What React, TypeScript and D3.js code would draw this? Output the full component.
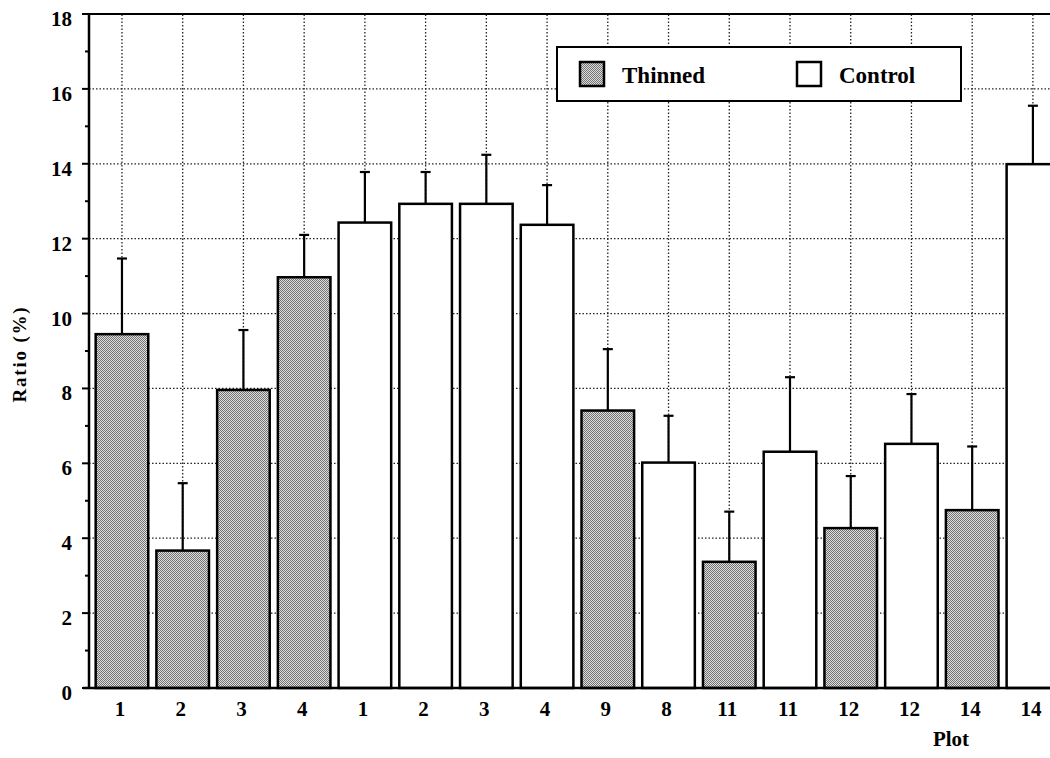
import React from 'react';
import * as d3 from 'd3';

// plot numbers as printed under each bar
const plots = ['1', '2', '3', '4', '1', '2', '3', '4', '9', '8', '11', '11', '12', '12', '14', '14'];
const treatments = [
  'Thinned', 'Thinned', 'Thinned', 'Thinned',
  'Control', 'Control', 'Control', 'Control',
  'Thinned', 'Control', 'Thinned', 'Control',
  'Thinned', 'Control', 'Thinned', 'Control',
];
// ratio (%) and top of the error bar
const ratios = [9.45, 3.67, 7.96, 10.97, 12.43, 12.93, 12.93, 12.37, 7.41, 6.02, 3.37, 6.31, 4.27, 6.52, 4.75, 13.99];
const errTops = [11.47, 5.47, 9.56, 12.1, 13.78, 13.78, 14.24, 13.43, 9.05, 7.27, 4.71, 8.3, 5.66, 7.85, 6.45, 15.55];
const yTicks = [0, 2, 4, 6, 8, 10, 12, 14, 16, 18];
const yMinor = [1, 3, 5, 7, 9, 11, 13, 15, 17];
const legendItems = ['Thinned', 'Control'];

const W = 1050;
const H = 758;
const FONT = '"Liberation Serif", "Times New Roman", serif';

const App = () => {
  const idx = plots.map((_, i) => i);
  const x = d3.scaleBand<number>()
    .domain(idx)
    .range([91.6, 91.6 + 16 * 60.73])
    .paddingInner(0.134)
    .paddingOuter(0.067);
  const y = d3.scaleLinear().domain([0, 18]).range([688, 14]);
  const axisX = 89;
  const fillFor = (t: string) => (t === 'Thinned' ? 'url(#stipple)' : '#fff');
  const half = x.bandwidth() / 2;

  return (
    <div style={{ position: 'absolute', left: 0, top: 0 }}>
      <svg width={W} height={H} style={{ display: 'block', background: '#fff' }} fontFamily={FONT}>
        <defs>
          <pattern id="stipple" patternUnits="userSpaceOnUse" x={0} y={0} width={4} height={4}>
            <rect width={4} height={4} fill="#dedede" />
            <rect x={0} y={0} width={1} height={1} fill="#707070" />
            <rect x={2} y={0} width={1} height={1} fill="#7a7a7a" />
            <rect x={1} y={1} width={1} height={1} fill="#747474" />
            <rect x={3} y={1} width={1} height={1} fill="#6c6c6c" />
            <rect x={0} y={2} width={1} height={1} fill="#7a7a7a" />
            <rect x={2} y={2} width={1} height={1} fill="#707070" />
            <rect x={1} y={3} width={1} height={1} fill="#6c6c6c" />
            <rect x={3} y={3} width={1} height={1} fill="#767676" />
          </pattern>
        </defs>

        {/* dotted grid */}
        <g stroke="#222" strokeWidth={1.3} strokeDasharray="1.5 2" fill="none">
          {yTicks.filter(t => t > 0 && t < 18).map(t => (
            <line key={'h' + t} x1={axisX} x2={W} y1={y(t)} y2={y(t)} />
          ))}
          {idx.map(i => (
            <line key={'v' + i} x1={x(i)! + half} x2={x(i)! + half} y1={y(0)} y2={y(18)} />
          ))}
        </g>

        {/* bars */}
        <g stroke="#000" strokeWidth={2.5}>
          {idx.map(i => (
            <rect key={'b' + i}
              x={x(i)}
              y={y(ratios[i])}
              width={x.bandwidth()}
              height={y(0) - y(ratios[i])}
              fill={fillFor(treatments[i])} />
          ))}
        </g>

        {/* error bars */}
        <g stroke="#000" strokeWidth={2.2}>
          {idx.map(i => {
            const cx = x(i)! + half;
            return (
              <g key={'e' + i}>
                <line x1={cx} x2={cx} y1={y(ratios[i])} y2={y(errTops[i])} />
                <line x1={cx - 5} x2={cx + 5} y1={y(errTops[i])} y2={y(errTops[i])} />
              </g>
            );
          })}
        </g>

        {/* frame */}
        <line x1={axisX} x2={W} y1={y(18)} y2={y(18)} stroke="#000" strokeWidth={2} />
        <line x1={axisX - 6} x2={W} y1={y(0)} y2={y(0)} stroke="#000" strokeWidth={2.5} />
        <line x1={axisX} x2={axisX} y1={y(18) - 1} y2={y(0) + 1} stroke="#000" strokeWidth={2.5} />

        {/* y ticks */}
        <g stroke="#000" strokeWidth={2}>
          {yTicks.map(t => (
            <line key={'t' + t} x1={axisX - 7} x2={axisX} y1={y(t)} y2={y(t)} />
          ))}
          {yMinor.map(t => (
            <line key={'m' + t} x1={axisX - 4} x2={axisX} y1={y(t)} y2={y(t)} />
          ))}
        </g>
        <g fontSize={21} fontWeight="bold" textAnchor="end" fill="#000">
          {yTicks.map(t => (
            <text key={'l' + t} x={72} y={y(t) + 12}>{t}</text>
          ))}
        </g>

        {/* x labels */}
        <g fontSize={21} fontWeight="bold" textAnchor="middle" fill="#000">
          {idx.map(i => (
            <text key={'x' + i} x={x(i)! + half - 2} y={716}>{plots[i]}</text>
          ))}
        </g>

        <text x={951} y={746} fontSize={21} fontWeight="bold" textAnchor="middle">Plot</text>
        <text transform="translate(26,354) rotate(-90)" fontSize={19} fontWeight="bold"
          textAnchor="middle" letterSpacing={1.8}>Ratio (%)</text>

        {/* legend */}
        <g>
          <rect x={557} y={47} width={404} height={54} fill="#fff" stroke="#000" strokeWidth={2} />
          {legendItems.map((name, k) => {
            const lx = k === 0 ? 580 : 797;
            return (
              <g key={name}>
                <rect x={lx} y={62} width={24} height={24} fill={fillFor(name)} stroke="#000" strokeWidth={2.5} />
                <text x={lx + 42} y={83} fontSize={23} fontWeight="bold">{name}</text>
              </g>
            );
          })}
        </g>
      </svg>
    </div>
  );
};

export default App;
